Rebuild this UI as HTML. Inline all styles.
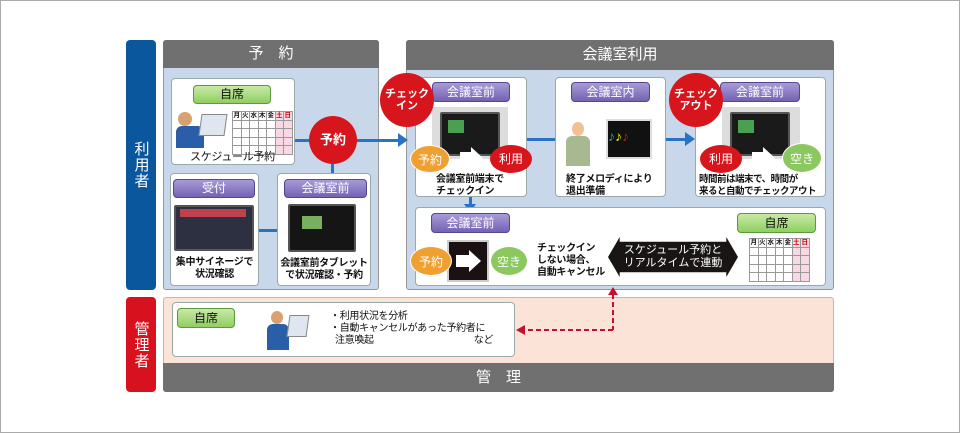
<!DOCTYPE html>
<html><head><meta charset="utf-8"><style>
*{margin:0;padding:0;box-sizing:border-box}
body{width:960px;height:433px;background:#fff;position:relative;overflow:hidden;font-family:"Liberation Sans","Noto Sans CJK JP",sans-serif;color:#111}
.a{position:absolute}
.frame{left:0;top:0;width:960px;height:433px;border:1px solid #aaa}
.bar{color:#fff;font-size:15px;display:flex;align-items:center;justify-content:center;writing-mode:vertical-rl;border-radius:4px;letter-spacing:1px}
.panel{background:#c9d7ea;border:1px solid #999;border-radius:3px}
.hd{background:#707070;color:#fff;font-size:15px;text-align:center;border-radius:3px 3px 0 0}
.box{background:#fff;border:1px solid #9aa;border-radius:4px}
.g{background:linear-gradient(#c8eaa6,#8fce62);border:1px solid #5a9a3a;border-radius:4px;font-size:12px;text-align:center;color:#111}
.p{background:linear-gradient(#a89ad6,#7462b4);border:1px solid #55478f;border-radius:4px;font-size:12px;text-align:center;color:#fff}
.rc{background:#d7151d;color:#fff;border-radius:50%;display:flex;align-items:center;justify-content:center;text-align:center;font-size:11px;line-height:12px;font-weight:bold}
.oc{background:#f0a030;color:#fff;border-radius:50%;display:flex;align-items:center;justify-content:center;font-size:12px;border:1px solid #fff}
.gc{background:#8cc860;color:#fff;border-radius:50%;display:flex;align-items:center;justify-content:center;font-size:12px;border:1px solid #fff}
.t{font-size:10px;line-height:12px;color:#111;white-space:nowrap;letter-spacing:-0.3px}
.scr{background:#1a1a1a;border:2px solid #555;border-radius:2px}
.ln{background:#2a73c0}
.cal{display:grid;grid-template-columns:repeat(7,8.5px);grid-auto-rows:8.5px;border-left:1px solid #999;border-top:1px solid #999;font-size:6.5px;line-height:8px;text-align:center;font-weight:bold}
.cal div{border-right:1px solid #999;border-bottom:1px solid #999}
.pk{background:#f7d8e4}
</style></head><body>
<div class="a frame"></div>
<div class="a bar" style="left:126px;top:40px;width:30px;height:250px;background:#0b579e">利用者</div>
<div class="a bar" style="left:126px;top:297px;width:30px;height:95px;background:#d7111d">管理者</div>

<div class="a panel" style="left:163px;top:40px;width:216px;height:250px"></div>
<div class="a hd" style="left:163px;top:40px;width:216px;height:28px;line-height:28px">予　約</div>
<div class="a panel" style="left:406px;top:40px;width:428px;height:250px"></div>
<div class="a hd" style="left:406px;top:40px;width:428px;height:30px;line-height:30px">会議室利用</div>
<div class="a" style="left:163px;top:297px;width:671px;height:95px;background:#fbe3d8;border:1px solid #bbb;border-radius:3px"></div>
<div class="a hd" style="left:163px;top:363px;width:671px;height:29px;line-height:29px;border-radius:0 0 3px 3px">管　理</div>

<!-- lines -->
<div class="a ln" style="left:295px;top:139px;width:104px;height:3px"></div>
<div class="a" style="left:398px;top:133px;border-left:10px solid #2a73c0;border-top:7px solid transparent;border-bottom:7px solid transparent"></div>
<div class="a ln" style="left:331px;top:150px;width:3px;height:24px"></div>
<div class="a ln" style="left:259px;top:229px;width:18px;height:3px"></div>
<div class="a ln" style="left:527px;top:138px;width:28px;height:3px"></div>
<div class="a ln" style="left:666px;top:138px;width:22px;height:3px"></div>
<div class="a" style="left:685px;top:132px;border-left:10px solid #2a73c0;border-top:7px solid transparent;border-bottom:7px solid transparent"></div>
<div class="a ln" style="left:469px;top:197px;width:3px;height:8px"></div>
<div class="a" style="left:464px;top:204px;border-top:9px solid #2a73c0;border-left:6px solid transparent;border-right:6px solid transparent"></div>

<!-- 自席 box -->
<div class="a box" style="left:171px;top:78px;width:124px;height:87px"></div>
<div class="a g" style="left:193px;top:85px;width:78px;height:19px;line-height:17px">自席</div>
<div class="a" style="left:178px;top:112px;width:14px;height:14px;border-radius:50%;background:#d9a070"></div>
<div class="a" style="left:176px;top:126px;width:28px;height:22px;background:#2a5ea8;border-radius:6px 6px 0 0"></div>
<div class="a" style="left:200px;top:114px;width:26px;height:22px;background:#dfe6ef;border:1px solid #888;transform:skewX(-8deg)"></div>
<div class="a cal" style="left:232px;top:111px"><div>月</div><div>火</div><div>水</div><div>木</div><div>金</div><div class="pk" style="color:#c00">土</div><div class="pk" style="color:#c00">日</div>
<div></div><div></div><div></div><div></div><div></div><div class="pk"></div><div class="pk"></div>
<div></div><div></div><div></div><div></div><div></div><div class="pk"></div><div class="pk"></div>
<div></div><div></div><div></div><div></div><div></div><div class="pk"></div><div class="pk"></div>
<div></div><div></div><div></div><div></div><div></div><div class="pk"></div><div class="pk"></div></div>
<div class="a t" style="left:190px;top:151px;font-size:11px">スケジュール予約</div>

<!-- 受付 -->
<div class="a box" style="left:170px;top:173px;width:89px;height:113px"></div>
<div class="a p" style="left:173px;top:179px;width:82px;height:19px;line-height:17px">受付</div>
<div class="a scr" style="left:174px;top:205px;width:80px;height:46px;background:#2c3040"></div>
<div class="a" style="left:180px;top:209px;width:66px;height:8px;background:#c04050"></div>
<div class="a t" style="left:170px;top:257px;text-align:center;width:89px;font-weight:bold">集中サイネージで<br>状況確認</div>
<div class="a box" style="left:277px;top:173px;width:94px;height:113px"></div>
<div class="a p" style="left:284px;top:179px;width:83px;height:19px;line-height:17px">会議室前</div>
<div class="a scr" style="left:288px;top:204px;width:68px;height:48px;background:#151515"></div>
<div class="a" style="left:302px;top:216px;width:20px;height:13px;background:#78b060"></div>
<div class="a t" style="left:277px;top:258px;width:94px;text-align:center;font-weight:bold">会議室前タブレット<br>で状況確認・予約</div>
<div class="a rc" style="left:309px;top:116px;width:48px;height:48px;font-size:13px">予約</div>

<!-- checkin -->
<div class="a box" style="left:415px;top:77px;width:112px;height:120px"></div>
<div class="a p" style="left:432px;top:82px;width:78px;height:20px;line-height:18px">会議室前</div>
<div class="a" style="left:432px;top:107px;width:76px;height:52px;background:#ddd"></div>
<div class="a scr" style="left:440px;top:112px;width:60px;height:44px"></div>
<div class="a" style="left:448px;top:120px;width:16px;height:13px;background:#4aa050"></div>
<div class="a oc" style="left:410px;top:145px;width:40px;height:28px">予約</div>
<div class="a" style="left:460px;top:152px;width:12px;height:12px;background:#fff"></div>
<div class="a" style="left:471px;top:147px;border-left:12px solid #fff;border-top:11px solid transparent;border-bottom:11px solid transparent"></div>
<div class="a rc" style="left:490px;top:145px;width:42px;height:28px;font-size:12px;font-weight:normal">利用</div>
<div class="a t" style="left:436px;top:174px;font-weight:bold">会議室前端末で<br>チェックイン</div>
<div class="a rc" style="left:380px;top:73px;width:54px;height:54px">チェック<br>イン</div>

<!-- 会議室内 -->
<div class="a box" style="left:555px;top:77px;width:111px;height:120px"></div>
<div class="a p" style="left:571px;top:82px;width:79px;height:20px;line-height:18px">会議室内</div>
<div class="a" style="left:572px;top:122px;width:12px;height:14px;border-radius:50%;background:#f2c095"></div>
<div class="a" style="left:566px;top:136px;width:24px;height:30px;background:#a8b890;border-radius:6px 6px 0 0"></div>
<div class="a" style="left:606px;top:119px;width:46px;height:40px;background:#111;border:2px solid #ddd;color:#2a8;font-size:14px;line-height:30px">♪<span style="color:#ee0">♪</span><span style="color:#d11">♪</span></div>
<div class="a t" style="left:566px;top:174px;font-weight:bold">終了メロディにより<br>退出準備</div>

<!-- checkout -->
<div class="a box" style="left:695px;top:77px;width:131px;height:120px"></div>
<div class="a p" style="left:720px;top:82px;width:80px;height:20px;line-height:18px">会議室前</div>
<div class="a" style="left:722px;top:107px;width:78px;height:52px;background:#ddd"></div>
<div class="a scr" style="left:730px;top:112px;width:60px;height:44px"></div>
<div class="a" style="left:738px;top:120px;width:16px;height:13px;background:#4aa050"></div>
<div class="a rc" style="left:700px;top:145px;width:42px;height:28px;font-size:12px;font-weight:normal">利用</div>
<div class="a" style="left:752px;top:152px;width:12px;height:12px;background:#fff"></div>
<div class="a" style="left:763px;top:147px;border-left:12px solid #fff;border-top:11px solid transparent;border-bottom:11px solid transparent"></div>
<div class="a gc" style="left:782px;top:143px;width:40px;height:30px">空き</div>
<div class="a t" style="left:699px;top:174px;font-weight:bold;font-size:9.5px;letter-spacing:-0.5px">時間前は端末で、時間が<br>来ると自動でチェックアウト</div>
<div class="a rc" style="left:669px;top:73px;width:54px;height:54px">チェック<br>アウト</div>

<!-- bottom box -->
<div class="a box" style="left:415px;top:207px;width:411px;height:79px"></div>
<div class="a p" style="left:431px;top:213px;width:79px;height:20px;line-height:18px">会議室前</div>
<div class="a" style="left:447px;top:240px;width:42px;height:42px;background:#1a1212;border:2px solid #ccc"></div>
<div class="a" style="left:456px;top:255px;width:14px;height:12px;background:#fff"></div>
<div class="a" style="left:469px;top:250px;border-left:12px solid #fff;border-top:11px solid transparent;border-bottom:11px solid transparent"></div>
<div class="a oc" style="left:410px;top:246px;width:42px;height:30px">予約</div>
<div class="a gc" style="left:490px;top:246px;width:38px;height:30px">空き</div>
<div class="a t" style="left:537px;top:243px;font-weight:bold">チェックイン<br>しない場合、<br>自動キャンセル</div>
<div class="a" style="left:608px;top:237px;width:130px;height:40px;background:#1a1515;clip-path:polygon(0 50%,9% 0,9% 12%,91% 12%,91% 0,100% 50%,91% 100%,91% 88%,9% 88%,9% 100%)"></div>
<div class="a" style="left:608px;top:244px;width:130px;text-align:center;color:#fff;font-size:11px;line-height:13px">スケジュール予約と<br>リアルタイムで連動</div>
<div class="a g" style="left:737px;top:213px;width:79px;height:20px;line-height:18px">自席</div>
<div class="a cal" style="left:749px;top:238px"><div>月</div><div>火</div><div>水</div><div>木</div><div>金</div><div class="pk" style="color:#c00">土</div><div class="pk" style="color:#c00">日</div>
<div></div><div></div><div></div><div></div><div></div><div class="pk"></div><div class="pk"></div>
<div></div><div></div><div></div><div></div><div></div><div class="pk"></div><div class="pk"></div>
<div></div><div></div><div></div><div></div><div></div><div class="pk"></div><div class="pk"></div>
<div></div><div></div><div></div><div></div><div></div><div class="pk"></div><div class="pk"></div></div>

<!-- management -->
<div class="a box" style="left:172px;top:302px;width:343px;height:55px"></div>
<div class="a g" style="left:177px;top:308px;width:58px;height:20px;line-height:18px">自席</div>
<div class="a" style="left:271px;top:311px;width:12px;height:13px;border-radius:50%;background:#d9a070"></div>
<div class="a" style="left:267px;top:324px;width:22px;height:26px;background:#2a5ea8;border-radius:6px 6px 0 0"></div>
<div class="a" style="left:288px;top:315px;width:20px;height:22px;background:#dfe6ef;border:1px solid #888;transform:skewX(-8deg)"></div>
<div class="a t" style="left:330px;top:311px;font-size:10px">・利用状況を分析<br>・自動キャンセルがあった予約者に<br>&nbsp;&nbsp;注意喚起<span style="margin-left:100px">など</span></div>
<svg class="a" style="left:510px;top:280px" width="110" height="60">
<line x1="103" y1="14" x2="103" y2="50" stroke="#c8102e" stroke-width="2" stroke-dasharray="5,3"/>
<polygon points="98,15 108,15 103,7" fill="#c8102e"/>
<line x1="103" y1="50" x2="14" y2="50" stroke="#c8102e" stroke-width="2" stroke-dasharray="5,3"/>
<polygon points="6,50 15,45 15,55" fill="#c8102e"/>
</svg>
</body></html>
